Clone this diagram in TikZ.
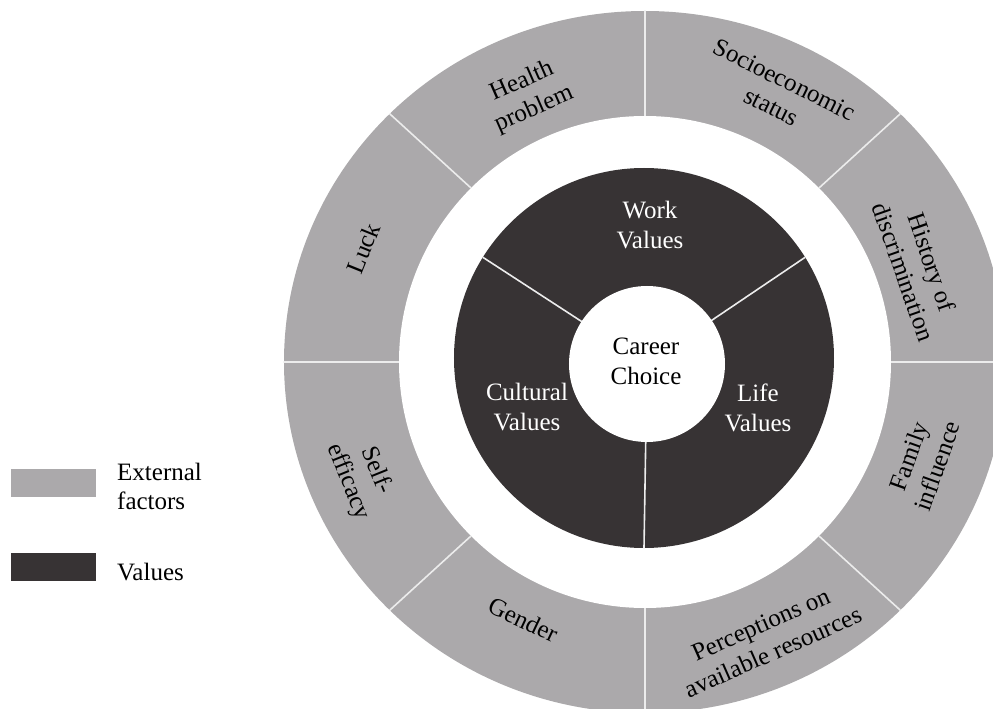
\documentclass[tikz,border=0pt]{standalone}
\usepackage{fontspec}
\setmainfont{Liberation Serif}
\usetikzlibrary{calc}
\definecolor{extgray}{RGB}{171,169,171}
\definecolor{valdark}{RGB}{55,51,52}
\definecolor{sepline}{RGB}{236,236,236}

\begin{document}
\begin{tikzpicture}[x=1pt,y=1pt,
  lbl/.style={font=\fontsize{25}{30}\selectfont, align=center, inner sep=0pt},
  legendtext/.style={font=\fontsize{25}{29}\selectfont, align=left, inner sep=0pt, anchor=west},
  sepstroke/.style={draw=sepline, line width=1.6pt},
  swatch/.style={inner sep=0pt, minimum width=85, minimum height=28},
]
\useasboundingbox (-645,-347) rectangle (348,362);
\clip (-645,-347) rectangle (348,362);

% centres of the rings
\coordinate (O) at (0,0);
\coordinate (Od) at (-1,4);
\coordinate (Oc) at (2,-2);

% outer ring of external factors
\fill[extgray] (O) ellipse [x radius=361, y radius=351];
\fill[white] (O) circle [radius=246];
\foreach \a in {0,45,...,315}
  \draw[sepstroke] (\a:246) -- (\a:361 and 351);

% ring of values
\fill[valdark] (Od) circle [radius=190];
\foreach \a in {32,148,270}
  \draw[sepstroke] (Oc) -- ($(Od)+(\a:190)$);

% centre
\node[circle, fill=white, minimum size=156, inner sep=0pt] (career) at (Oc) {};
\node[lbl] (careertext) at (1,1) {Career\\Choice};

% values
\node[lbl, text=white] (work) at (5,137) {Work\\Values};
\node[lbl, text=white] (cultural) at (-118,-45) {Cultural\\Values};
\node[lbl, text=white] (life) at (113,-46) {Life\\Values};

% external factors
\node[lbl, rotate=23.7]  (health) at (113.7:291) {Health\\problem};
\node[lbl, rotate=-26.3] (socio)  at (63.7:300)  {Socioeconomic\\status};
\node[lbl, rotate=-70.8] (hist)   at (19.2:289)  {History of\\discrimination};
\node[lbl, rotate=70.4]  (family) at (-19.6:295) {Family\\influence};
\node[lbl, rotate=23.8]  (percep) at (-66.2:302) {Perceptions on\\available resources};
\node[lbl, rotate=-25.3] (gender) at (-115.3:285) {Gender};
\node[lbl, rotate=-68]   (self)   at (202:305)   {Self-\\efficacy};
\node[lbl, rotate=68]    (luck)   at (158:304)   {Luck};

% legend
\node[swatch, fill=extgray] (swext) at (-591.5,-121) {};
\node[legendtext] (legext) at (-528,-124) {External\\factors};
\node[swatch, fill=valdark] (swval) at (-591.5,-204.5) {};
\node[legendtext] (legval) at (-528,-210) {Values};
\end{tikzpicture}
\end{document}
